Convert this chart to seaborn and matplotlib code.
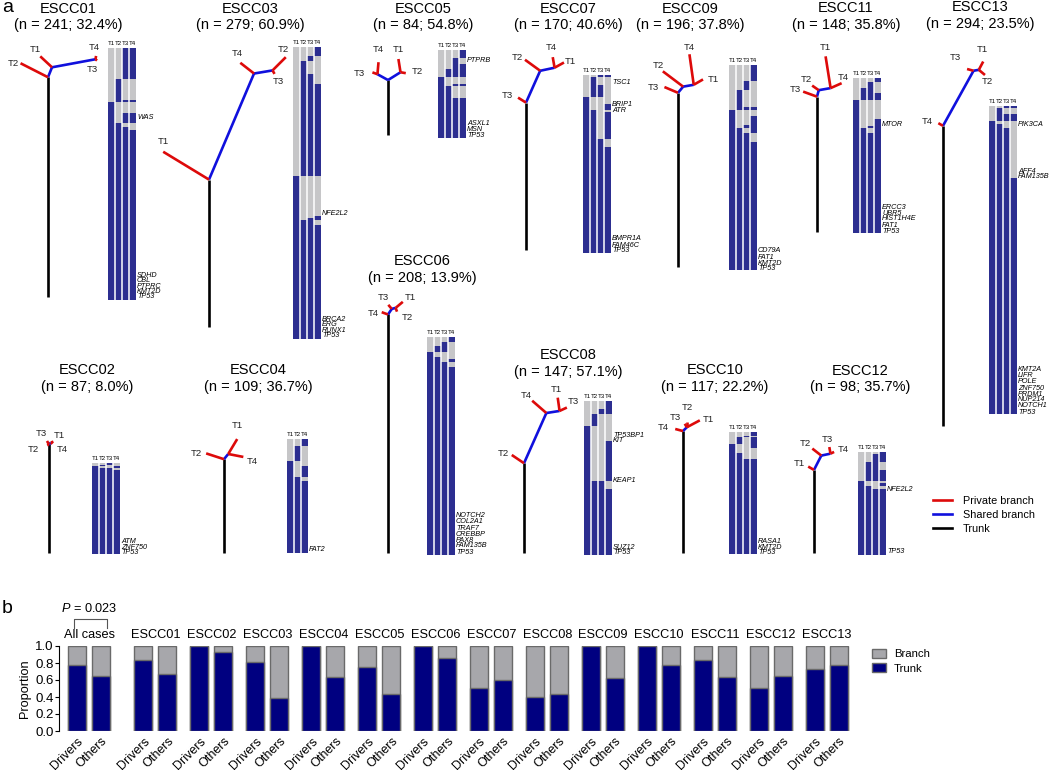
"""
Multi-region ESCC phylogenies with mutation heatmaps (a) and
trunk/branch proportion of driver vs other mutations (b).
"""

import numpy as np
import matplotlib
matplotlib.use("Agg")
import matplotlib.pyplot as plt
import seaborn as sns
from matplotlib.colors import ListedColormap
from matplotlib.lines import Line2D
from matplotlib.patches import Patch

# ---------------------------------------------------------------- data
CASES = ["ESCC01", "ESCC02", "ESCC03", "ESCC04", "ESCC05", "ESCC06", "ESCC07",
         "ESCC08", "ESCC09", "ESCC10", "ESCC11", "ESCC12", "ESCC13"]
N_MUT = [241, 87, 279, 109, 84, 208, 170, 147, 196, 117, 148, 98, 294]
PCT_BRANCH = [32.4, 8.0, 60.9, 36.7, 54.8, 13.9, 40.6, 57.1, 37.8, 22.2, 35.8, 35.7, 23.5]
REGIONS = [["T1", "T2", "T3", "T4"]] * 3 + [["T1", "T2", "T4"]] + [["T1", "T2", "T3", "T4"]] * 9

# heatmap rows top -> bottom: (presence pattern per region, number of mutations)
HEAT_BLOCKS = [
    [("0011", 30), ("0100", 20), ("0111", 2), ("1000", 10), ("1011", 10), ("1100", 3), ("1110", 3), ("1111", 163)],
    [("0010", 2), ("0100", 1), ("1001", 2), ("1110", 2), ("1111", 80)],
    [("0001", 9), ("0010", 4), ("0100", 13), ("0110", 9), ("0111", 88), ("1000", 38), ("1001", 2), ("1011", 2),
     ("1110", 5), ("1111", 109)],
    [("001", 7), ("010", 14), ("100", 5), ("101", 10), ("110", 4), ("111", 69)],
    [("0001", 8), ("0010", 5), ("0011", 5), ("0111", 8), ("1000", 6), ("1011", 2), ("1100", 12), ("1111", 38)],
    [("0001", 5), ("0010", 4), ("0110", 5), ("1000", 5), ("1100", 2), ("1101", 3), ("1110", 5), ("1111", 179)],
    [("0011", 2), ("0100", 8), ("0110", 11), ("1000", 7), ("1001", 5), ("1100", 2), ("1101", 26), ("1110", 8),
     ("1111", 101)],
    [("0001", 8), ("0011", 4), ("0100", 12), ("1000", 14), ("1001", 38), ("1110", 8), ("1111", 63)],
    [("0001", 15), ("0010", 9), ("0100", 16), ("0111", 3), ("1000", 6), ("1001", 8), ("1011", 3), ("1101", 5),
     ("1110", 9), ("1111", 122)],
    [("0001", 4), ("0010", 1), ("0101", 6), ("1001", 4), ("1000", 5), ("1100", 6), ("1111", 91)],
    [("0001", 4), ("0010", 6), ("0110", 4), ("0111", 7), ("1000", 18), ("1001", 7), ("1011", 2), ("1101", 5),
     ("1111", 95)],
    [("0001", 2), ("0011", 8), ("0110", 7), ("0111", 11), ("1000", 2), ("1001", 2), ("1100", 3), ("1111", 63)],
    [("0011", 2), ("0100", 6), ("0111", 6), ("1000", 3), ("1100", 4), ("1110", 48), ("1111", 225)],
]

# driver genes labelled beside the heatmap: (gene, row index)
DRIVER_GENES = [
    [("WAS", 66), ("SDHD", 217), ("CBL", 222), ("PTPRC", 227), ("KMT2D", 232), ("TP53", 237)],
    [("ATM", 74), ("ZNF750", 80), ("TP53", 85)],
    [("NFE2L2", 159), ("BRCA2", 260), ("ERG", 265), ("RUNX1", 270), ("TP53", 275)],
    [("FAT2", 105)],
    [("PTPRB", 10), ("ASXL1", 70), ("MSN", 75), ("TP53", 81)],
    [("NOTCH2", 170), ("COL2A1", 176), ("TRAF7", 182), ("CREBBP", 188), ("PAX8", 194), ("FAM135B", 199),
     ("TP53", 205)],
    [("TSC1", 7), ("BRIP1", 28), ("ATR", 33), ("BMPR1A", 156), ("FAM46C", 162), ("TP53", 167)],
    [("TP53BP1", 32), ("KIT", 37), ("KEAP1", 75), ("SUZ12", 139), ("TP53", 144)],
    [("CD79A", 177), ("FAT1", 183), ("KMT2D", 189), ("TP53", 194)],
    [("RASA1", 104), ("KMT2D", 110), ("TP53", 115)],
    [("MTOR", 44), ("ERCC3", 123), ("UBR5", 129), ("HIST1H4E", 134), ("FAT1", 140), ("TP53", 146)],
    [("NFE2L2", 35), ("TP53", 95)],
    [("PIK3CA", 17), ("AFF4", 62), ("FAM135B", 67), ("KMT2A", 251), ("LIFR", 257), ("POLE", 263),
     ("ZNF750", 269), ("PRDM1", 275), ("NUP214", 280), ("NOTCH1", 286), ("TP53", 292)],
]

# tree edges: (parent, child, length in mutations, angle in degrees, kind t/s/p)
TREE_EDGES = [
    [("r", "a", 164, 90, "t"), ("a", "T2", 23, 153, "p"), ("a", "b", 8, 68, "s"), ("b", "T1", 12, 137, "p"),
     ("b", "c", 33, 10.5, "s"), ("c", "T4", 2.5, 80, "p"), ("c", "T3", 1.5, -40, "p")],
    [("r", "a", 81, 90, "t"), ("a", "b", 2, 45, "s"), ("a", "T3", 3, 120, "p"), ("b", "T1", 2, 20, "p"),
     ("a", "T2", 1.5, 200, "p"), ("b", "T4", 1.5, -40, "p")],
    [("r", "a", 110, 90, "t"), ("a", "T1", 40, 148.7, "p"), ("a", "b", 86, 67, "s"), ("b", "T4", 13, 142, "p"),
     ("b", "c", 14, 9.5, "s"), ("c", "T2", 14, 45, "p"), ("c", "T3", 3, -60, "p")],
    [("r", "a", 70, 90, "t"), ("a", "T2", 14, 162, "p"), ("a", "b", 5, 51, "s"), ("b", "T1", 13, 59, "p"),
     ("b", "T4", 11.5, -11, "p")],
    [("r", "a", 41, 90, "t"), ("a", "b", 9, 151, "s"), ("a", "c", 11, 32, "s"), ("b", "T4", 9, 85, "p"),
     ("b", "T3", 4, 160, "p"), ("c", "T1", 10, 99, "p"), ("c", "T2", 4, -10, "p")],
    [("r", "a", 178, 90, "t"), ("a", "T4", 5, 160, "p"), ("a", "b", 5, 56, "s"), ("b", "T3", 4, 130, "p"),
     ("b", "c", 3, 15, "s"), ("c", "T1", 7, 40, "p"), ("c", "T2", 3, -70, "p")],
    [("r", "a", 110, 90, "t"), ("a", "T3", 7, 148, "p"), ("a", "b", 26, 66, "s"), ("b", "T2", 14, 144, "p"),
     ("b", "c", 11, 12, "s"), ("c", "T4", 8, 100, "p"), ("c", "T1", 8, 29, "p")],
    [("r", "a", 67, 90, "t"), ("a", "T2", 11, 146, "p"), ("a", "b", 41, 66, "s"), ("b", "T4", 14, 139, "p"),
     ("b", "c", 10, 9, "s"), ("c", "T1", 10, 98, "p"), ("c", "T3", 6, 25, "p")],
    [("r", "a", 130, 90, "t"), ("a", "T3", 11, 157, "p"), ("a", "b", 6, 50, "s"), ("b", "T2", 19, 143, "p"),
     ("b", "c", 8, 10, "s"), ("c", "T4", 23, 98, "p"), ("c", "T1", 8, 30, "p")],
    [("r", "a", 91, 90, "t"), ("a", "T4", 6, 165, "p"), ("a", "b", 4, 45, "s"), ("b", "T3", 3, 120, "p"),
     ("b", "T2", 4, 90, "p"), ("b", "T1", 11, 28, "p")],
    [("r", "a", 101, 90, "t"), ("a", "T3", 11, 160, "p"), ("a", "b", 5, 75, "s"), ("b", "T2", 6, 145, "p"),
     ("b", "c", 9, 10, "s"), ("c", "T1", 24, 99, "p"), ("c", "T4", 9, 24, "p")],
    [("r", "a", 62, 90, "t"), ("a", "T1", 5, 150, "p"), ("a", "b", 12, 63, "s"), ("b", "T2", 8.5, 142, "p"),
     ("b", "c", 7, 12, "s"), ("c", "T3", 5, 100, "p"), ("c", "T4", 3, 25, "p")],
    [("r", "a", 224, 90, "t"), ("a", "T4", 4, 150, "p"), ("a", "b", 47, 61, "s"), ("b", "T3", 5, 165, "p"),
     ("b", "c", 4, 10, "s"), ("c", "T1", 7, 62, "p"), ("c", "T2", 6, -40, "p")],
]

# panel b: fraction of mutations on the trunk
B_GROUPS = ["All cases"] + CASES
TRUNK_DRIVERS = [0.78, 0.84, 1.0, 0.81, 1.0, 0.75, 1.0, 0.505, 0.40, 1.0, 1.0, 0.84, 0.505, 0.733]
TRUNK_OTHERS = [0.643, 0.675, 0.925, 0.39, 0.635, 0.44, 0.86, 0.604, 0.435, 0.624, 0.776, 0.635, 0.65, 0.773]
P_ALL = 0.023

# ---------------------------------------------------------------- layout (pixels)
W, H = 1050, 770
TITLE_POS = [(68, 9, 25), (87, 370, 387), (250, 9, 25), (258, 370, 387), (423, 9, 25), (422, 261, 278),
             (568, 9, 25), (568, 355, 372), (690, 9, 25), (715, 370, 387), (846, 8, 25), (860, 371, 387),
             (980, 7, 24)]
TREE_ROOT = [(48, 297), (49, 553), (209, 327), (224, 553), (388, 135), (388, 553), (526, 250),
             (524, 553), (678, 267), (683, 553), (817, 232), (814, 553), (943, 426)]
TIP_LABEL_POS = [
    {"T1": (35, 49), "T2": (13, 63), "T3": (92, 70), "T4": (94, 47)},
    {"T1": (59, 435), "T2": (33, 450), "T3": (41, 433), "T4": (62, 449)},
    {"T1": (163, 142), "T2": (283, 50), "T3": (278, 82), "T4": (237, 53)},
    {"T1": (237, 426), "T2": (196, 453), "T4": (252, 462)},
    {"T1": (398, 50), "T2": (417, 71), "T3": (359, 73), "T4": (378, 50)},
    {"T1": (410, 298), "T2": (407, 318), "T3": (383, 297), "T4": (373, 313)},
    {"T1": (570, 61), "T2": (517, 57), "T3": (507, 95), "T4": (551, 47)},
    {"T1": (556, 389), "T2": (503, 453), "T3": (573, 402), "T4": (526, 396)},
    {"T1": (713, 79), "T2": (658, 65), "T3": (653, 87), "T4": (689, 47)},
    {"T1": (708, 419), "T2": (687, 408), "T3": (675, 418), "T4": (663, 428)},
    {"T1": (825, 48), "T2": (806, 79), "T3": (795, 90), "T4": (843, 77)},
    {"T1": (799, 464), "T2": (805, 444), "T3": (827, 439), "T4": (843, 449)},
    {"T1": (982, 49), "T2": (987, 81), "T3": (955, 58), "T4": (927, 122)},
]
HEAT_ORIGIN = [(108, 48), (92, 463), (293, 47), (287, 439), (438, 50), (427, 337), (583, 75),
               (584, 401), (729, 65), (729, 432), (853, 78), (858, 452), (989, 106)]
ROW_PX = 1.047
COL_PX = 7.0
TREE_SCALE = 1.34

RED, BLUE, BLACK = "#DD0A0A", "#1010DD", "#000000"
HEAT_BLUE, HEAT_GREY = "#2C2E90", "#C6C6C8"
BAR_NAVY, BAR_GREY, BAR_EDGE = "#000080", "#A7A7AB", "#6A6A6A"
KIND_STYLE = {"t": (BLACK, 3), "s": (BLUE, 4), "p": (RED, 5)}

plt.rcParams["font.family"] = ["Liberation Sans", "DejaVu Sans"]
plt.rcParams["mathtext.fontset"] = "custom"
plt.rcParams["mathtext.it"] = "Liberation Sans:italic"
plt.rcParams["mathtext.rm"] = "Liberation Sans"

fig = plt.figure(figsize=(W / 100, H / 100), dpi=100)
ax_a = fig.add_axes([0, 0, 1, 1])
ax_a.set_xlim(0, W)
ax_a.set_ylim(H, 0)
ax_a.axis("off")


def fig_rect(x0, y0, w, h):
    return [x0 / W, 1 - (y0 + h) / H, w / W, h / H]


def draw_tree(ax, root, edges, label_pos):
    pos = {"r": root}
    for parent, child, length, angle, kind in edges:
        x0, y0 = pos[parent]
        rad = np.deg2rad(angle)
        x1 = x0 + length * TREE_SCALE * np.cos(rad)
        y1 = y0 - length * TREE_SCALE * np.sin(rad)
        pos[child] = (x1, y1)
        color, z = KIND_STYLE[kind]
        ax.plot([x0, x1], [y0, y1], color=color, lw=1.9, solid_capstyle="butt", zorder=z)
    for tip, (lx, ly) in label_pos.items():
        ax.text(lx, ly, tip, fontsize=6.8, ha="center", va="center", color="#222222")


def draw_heatmap(x0, y0, blocks, regions, genes):
    rows = []
    for pattern, count in blocks:
        rows += [[int(ch) for ch in pattern]] * count
    mat = np.array(rows)
    n, ncol = mat.shape
    hax = fig.add_axes(fig_rect(x0, y0, ncol * COL_PX, n * ROW_PX))
    sns.heatmap(mat, ax=hax, cmap=ListedColormap([HEAT_GREY, HEAT_BLUE]), vmin=0, vmax=1,
                cbar=False, xticklabels=False, yticklabels=False)
    for c in range(1, ncol):
        hax.axvline(c, color="white", lw=1.1)
    for c, reg in enumerate(regions):
        ax_a.text(x0 + (c + 0.5) * COL_PX, y0 - 4.5, reg, fontsize=4.4, ha="center", va="center")
    for gene, row in genes:
        ax_a.text(x0 + ncol * COL_PX + 1, y0 + (row + 0.5) * ROW_PX, gene, fontsize=5.2,
                  style="italic", ha="left", va="center")


# ---------------------------------------------------------------- panel a
ax_a.text(2, 12, "a", fontsize=14, va="baseline")
for i, case in enumerate(CASES):
    tx, ty1, ty2 = TITLE_POS[i]
    ax_a.text(tx, ty1, case, fontsize=10.5, ha="center", va="center")
    ax_a.text(tx, ty2, f"(n = {N_MUT[i]}; {PCT_BRANCH[i]:.1f}%)", fontsize=10.5, ha="center", va="center")
    draw_tree(ax_a, TREE_ROOT[i], TREE_EDGES[i], TIP_LABEL_POS[i])
    draw_heatmap(*HEAT_ORIGIN[i], HEAT_BLOCKS[i], REGIONS[i], DRIVER_GENES[i])

ax_a.legend(handles=[Line2D([], [], color=RED, lw=1.9, label="Private branch"),
                     Line2D([], [], color=BLUE, lw=1.9, label="Shared branch"),
                     Line2D([], [], color=BLACK, lw=1.9, label="Trunk")],
            loc="upper left", bbox_to_anchor=(933 / W, 1 - 496 / H), frameon=False, fontsize=7.8,
            handlelength=1.75, handletextpad=1.0, borderpad=0, borderaxespad=0, labelspacing=0.38)

# ---------------------------------------------------------------- panel b
ax_a.text(2, 613, "b", fontsize=14, va="baseline")
PAIR_GAP, GROUP_GAP, FIRST_CASE = 1.0, 2.332, 2.77
drv_x = [0.0] + [FIRST_CASE + k * GROUP_GAP for k in range(len(CASES))]
oth_x = [x + PAIR_GAP for x in drv_x]
all_x = drv_x + oth_x

axb = fig.add_axes(fig_rect(59, 646, 798, 85))
sns.barplot(x=all_x, y=[1.0] * len(all_x), native_scale=True, orient="x", width=0.75, color=BAR_GREY,
            saturation=1, edgecolor=BAR_EDGE, linewidth=1.0, errorbar=None, ax=axb)
sns.barplot(x=all_x, y=TRUNK_DRIVERS + TRUNK_OTHERS, native_scale=True, orient="x", width=0.75,
            color=BAR_NAVY, saturation=1, edgecolor=BAR_EDGE, linewidth=1.0, errorbar=None, ax=axb)
axb.set_xlim(-0.75, 32.5)
axb.set_ylim(0, 1)
axb.set_yticks(np.arange(0, 1.01, 0.2))
axb.set_yticklabels([f"{v:.1f}" for v in np.arange(0, 1.01, 0.2)], fontsize=9.5)
axb.set_ylabel("Proportion", fontsize=9.2, labelpad=3)
axb.set_xticks(drv_x + oth_x)
axb.set_xticklabels(["Drivers"] * len(drv_x) + ["Others"] * len(oth_x), rotation=45, ha="right",
                    rotation_mode="anchor", fontsize=9)
axb.tick_params(axis="x", length=0, pad=3)
axb.tick_params(axis="y", length=3, pad=1, width=0.8)
for side in ["top", "right", "bottom"]:
    axb.spines[side].set_visible(False)
axb.spines["left"].set_linewidth(0.8)

tr = axb.get_xaxis_transform()
for g, x in zip(B_GROUPS, drv_x):
    axb.text(x + PAIR_GAP / 2, 1.13, g, fontsize=9.2, ha="center", va="center", transform=tr)
axb.plot([-0.12, -0.12, 1.25, 1.25], [1.21, 1.32, 1.32, 1.21], color="#555555", lw=0.8,
         transform=tr, clip_on=False)
axb.text(0.5, 1.44, rf"$P$ = {P_ALL}", fontsize=9.2, ha="center", va="center", transform=tr)

axb.legend(handles=[Patch(fc=BAR_GREY, ec=BAR_EDGE, label="Branch"),
                    Patch(fc=BAR_NAVY, ec=BAR_EDGE, label="Trunk")],
           loc="upper left", bbox_to_anchor=(872 / W, 1 - 649 / H), bbox_transform=fig.transFigure,
           frameon=False, fontsize=8.2, handlelength=1.2, handleheight=0.8, handletextpad=0.7,
           borderpad=0, borderaxespad=0, labelspacing=0.35)

fig.savefig("out.png", dpi=100)
